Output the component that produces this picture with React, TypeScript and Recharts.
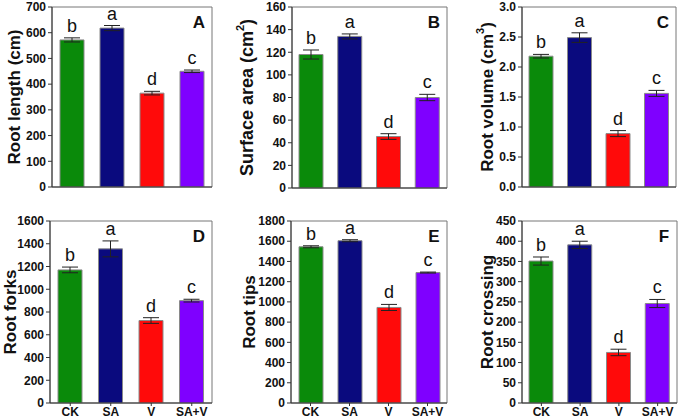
import React from "react";
import {
  Bar,
  BarChart,
  Cell,
  ErrorBar,
  LabelList,
  ReferenceArea,
  XAxis,
  YAxis,
} from "recharts";

const GROUPS = ["CK", "SA", "V", "SA+V"];
const COLORS = ["#0a8a0a", "#0a0a7e", "#ff0a0a", "#7f00ff"];
const SIG = ["b", "a", "d", "c"];

const ROOT_LENGTH = [572, 618, 365, 450];
const ROOT_LENGTH_ERR = [8, 10, 7, 5];
const SURFACE_AREA = [118, 134, 45.5, 80];
const SURFACE_AREA_ERR = [4, 2.2, 2.5, 2.8];
const ROOT_VOLUME = [2.18, 2.49, 0.89, 1.56];
const ROOT_VOLUME_ERR = [0.03, 0.08, 0.05, 0.05];
const ROOT_FORKS = [1170, 1355, 725, 900];
const ROOT_FORKS_ERR = [25, 70, 25, 12];
const ROOT_TIPS = [1545, 1605, 945, 1290];
const ROOT_TIPS_ERR = [10, 10, 30, 5];
const ROOT_CROSSING = [351, 391, 125, 246];
const ROOT_CROSSING_ERR = [10, 9, 8, 10];

const TICKS_A = [0, 100, 200, 300, 400, 500, 600, 700];
const TICKS_B = [0, 20, 40, 60, 80, 100, 120, 140, 160];
const TICKS_C = [0, 0.5, 1, 1.5, 2, 2.5, 3];
const TICKS_D = [0, 200, 400, 600, 800, 1000, 1200, 1400, 1600];
const TICKS_E = [0, 200, 400, 600, 800, 1000, 1200, 1400, 1600, 1800];
const TICKS_F = [0, 50, 100, 150, 200, 250, 300, 350, 400, 450];

const FONT = "'Liberation Sans', Arial, sans-serif";

const rows = (vals: number[], errs: number[]) =>
  GROUPS.map((g, i) => ({ group: g, value: vals[i], err: errs[i], sig: SIG[i] }));

const PANELS = [
  { key: "A", label: "Root length (cm)", sup: "", data: rows(ROOT_LENGTH, ROOT_LENGTH_ERR), ticks: TICKS_A, dec: 0,
    left: 0, top: 0, w: 225, h: 205, ml: 12, mr: 13, mt: 7, xh: 18, lx: 14, fs: 17, showX: false },
  { key: "B", label: "Surface area (cm", sup: "2", data: rows(SURFACE_AREA, SURFACE_AREA_ERR), ticks: TICKS_B, dec: 0,
    left: 225, top: 0, w: 230, h: 205, ml: 27, mr: 8, mt: 7, xh: 17, lx: 22, fs: 18, showX: false },
  { key: "C", label: "Root volume (cm", sup: "3", data: rows(ROOT_VOLUME, ROOT_VOLUME_ERR), ticks: TICKS_C, dec: 1,
    left: 455, top: 0, w: 230, h: 205, ml: 27, mr: 9, mt: 7, xh: 18, lx: 32, fs: 17, showX: false },
  { key: "D", label: "Root forks", sup: "", data: rows(ROOT_FORKS, ROOT_FORKS_ERR), ticks: TICKS_D, dec: 0,
    left: 0, top: 205, w: 225, h: 214, ml: 10, mr: 13, mt: 16, xh: 16, lx: 10, fs: 17, showX: true },
  { key: "E", label: "Root tips", sup: "", data: rows(ROOT_TIPS, ROOT_TIPS_ERR), ticks: TICKS_E, dec: 0,
    left: 225, top: 205, w: 230, h: 214, ml: 26, mr: 8, mt: 16, xh: 16, lx: 24, fs: 17, showX: true },
  { key: "F", label: "Root crossing", sup: "", data: rows(ROOT_CROSSING, ROOT_CROSSING_ERR), ticks: TICKS_F, dec: 0,
    left: 455, top: 205, w: 230, h: 214, ml: 27, mr: 8, mt: 16, xh: 16, lx: 32, fs: 17, showX: true },
];

function YTitle(props: any) {
  const { viewBox, lx, text, sup, fs } = props;
  const cy = viewBox.y + viewBox.height / 2;
  return (
    <text
      x={lx}
      y={cy}
      transform={`rotate(-90, ${lx}, ${cy})`}
      textAnchor="middle"
      dominantBaseline="central"
      fontFamily={FONT}
      fontWeight="bold"
      fontSize={fs}
      fill="#111"
    >
      {text}
      {sup ? (
        <>
          <tspan fontSize={11} dy={-7}>{sup}</tspan>
          <tspan dy={7}>)</tspan>
        </>
      ) : null}
    </text>
  );
}

function PanelLetter(props: any) {
  const { viewBox, letter } = props;
  return (
    <text
      x={viewBox.x + viewBox.width - 13}
      y={viewBox.y + 21}
      textAnchor="middle"
      fontFamily={FONT}
      fontWeight="bold"
      fontSize={17}
      fill="#111"
    >
      {letter}
    </text>
  );
}

function Panel({ p }: { p: (typeof PANELS)[number] }) {
  const max = p.ticks[p.ticks.length - 1];
  return (
    <div style={{ position: "absolute", left: p.left, top: p.top }}>
      <BarChart
        width={p.w}
        height={p.h}
        data={p.data}
        margin={{ top: p.mt, right: p.mr, left: p.ml, bottom: 0 }}
        barSize={24}
      >
        <ReferenceArea
          y1={0}
          y2={max}
          fill="none"
          stroke="#777"
          strokeWidth={1}
          label={<PanelLetter letter={p.key} />}
        />
        <XAxis
          dataKey="group"
          height={p.xh}
          axisLine={{ stroke: "#333" }}
          tickLine={p.showX ? { stroke: "#333" } : false}
          tick={p.showX ? { fontSize: 12, fontWeight: "bold", fill: "#111", fontFamily: FONT } : false}
          tickSize={3}
          tickMargin={1}
          interval={0}
        />
        <YAxis
          width={40}
          domain={[0, max]}
          ticks={p.ticks}
          interval={0}
          allowDataOverflow
          axisLine={{ stroke: "#333" }}
          tickLine={{ stroke: "#333" }}
          tickSize={4}
          tickMargin={2}
          tick={{ fontSize: 12, fontWeight: "bold", fill: "#111", fontFamily: FONT }}
          tickFormatter={(v: number) => v.toFixed(p.dec)}
          label={<YTitle lx={p.lx} text={p.label} sup={p.sup} fs={p.fs} />}
        />
        <Bar dataKey="value" stroke="#8a8a8a" strokeWidth={1} isAnimationActive={false}>
          {p.data.map((_, i) => (
            <Cell key={i} fill={COLORS[i]} />
          ))}
          <ErrorBar dataKey="err" width={8} stroke="#222" strokeWidth={1} />
          <LabelList
            dataKey="sig"
            content={(lp: any) => {
              const row = p.data[lp.index];
              if (!row) return null;
              const errPx = (row.err * lp.height) / row.value;
              return (
                <text
                  x={lp.x + lp.width / 2}
                  y={lp.y - errPx - 6}
                  textAnchor="middle"
                  fontFamily={FONT}
                  fontSize={18}
                  fill="#111"
                >
                  {row.sig}
                </text>
              );
            }}
          />
        </Bar>
      </BarChart>
    </div>
  );
}

export default function App() {
  return (
    <div style={{ position: "absolute", left: 0, top: 0, width: 685, height: 419, background: "#fff" }}>
      {PANELS.map((p) => (
        <Panel key={p.key} p={p} />
      ))}
    </div>
  );
}
